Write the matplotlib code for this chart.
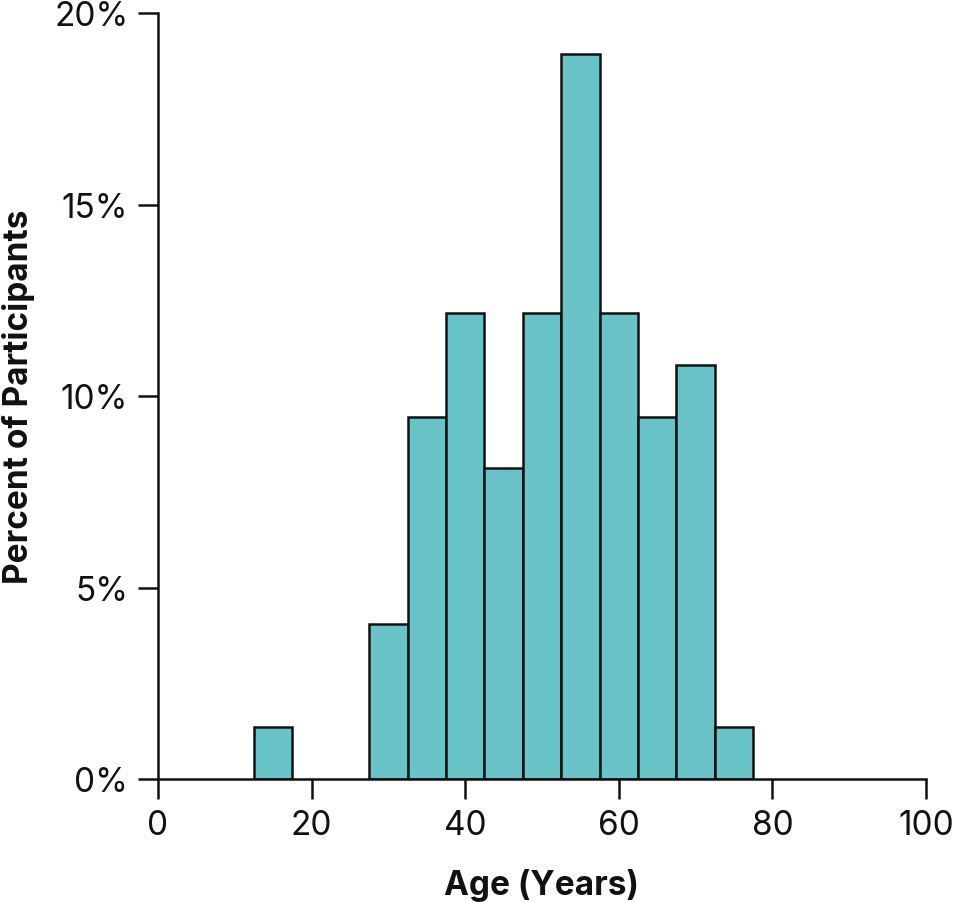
import matplotlib
matplotlib.use("Agg")
import matplotlib.pyplot as plt
from matplotlib.ticker import FuncFormatter

# histogram of ages, 5-year bins, percent of participants (n = 74)
bin_edges = [12.5, 17.5, 22.5, 27.5, 32.5, 37.5, 42.5, 47.5, 52.5, 57.5, 62.5, 67.5, 72.5, 77.5]
counts = [1, 0, 0, 3, 7, 9, 6, 9, 14, 9, 7, 8, 1]
total = sum(counts)
percents = [c / total * 100 for c in counts]

x_ticks = [0, 20, 40, 60, 80, 100]
y_ticks = [0, 5, 10, 15, 20]

plt.rcParams['font.family'] = ['Inter', 'DejaVu Sans']

fig = plt.figure(figsize=(9.6, 9.03), dpi=100)
ax = fig.add_axes([158 / 960, 1 - 780 / 903, (926 - 158) / 960, (780 - 14) / 903])

lefts = bin_edges[:-1]
widths = [bin_edges[i + 1] - bin_edges[i] for i in range(len(counts))]
for l, w, p in zip(lefts, widths, percents):
    if p > 0:
        ax.bar(l, p, width=w, align='edge', color='#6AC3C6',
               edgecolor='#111111', linewidth=1.8, zorder=2)

ax.set_xlim(0, 100)
ax.set_ylim(0, 20)
ax.set_xticks(x_ticks)
ax.set_yticks(y_ticks)
ax.yaxis.set_major_formatter(FuncFormatter(lambda v, pos: f"{int(v)}%"))

for side in ['top', 'right']:
    ax.spines[side].set_visible(False)
for side in ['left', 'bottom']:
    ax.spines[side].set_linewidth(1.8)
    ax.spines[side].set_color('#111111')

ax.tick_params(axis='both', direction='out', length=14.4, width=1.8,
               color='#111111', labelsize=24, labelcolor='#111111', pad=7)

ax.set_xlabel('Age (Years)', fontsize=24, fontweight='bold', labelpad=20, color='#111111')
ax.set_ylabel('Percent of Participants', fontsize=24, fontweight='bold', labelpad=14, color='#111111')

fig.savefig('out.png', dpi=100)
